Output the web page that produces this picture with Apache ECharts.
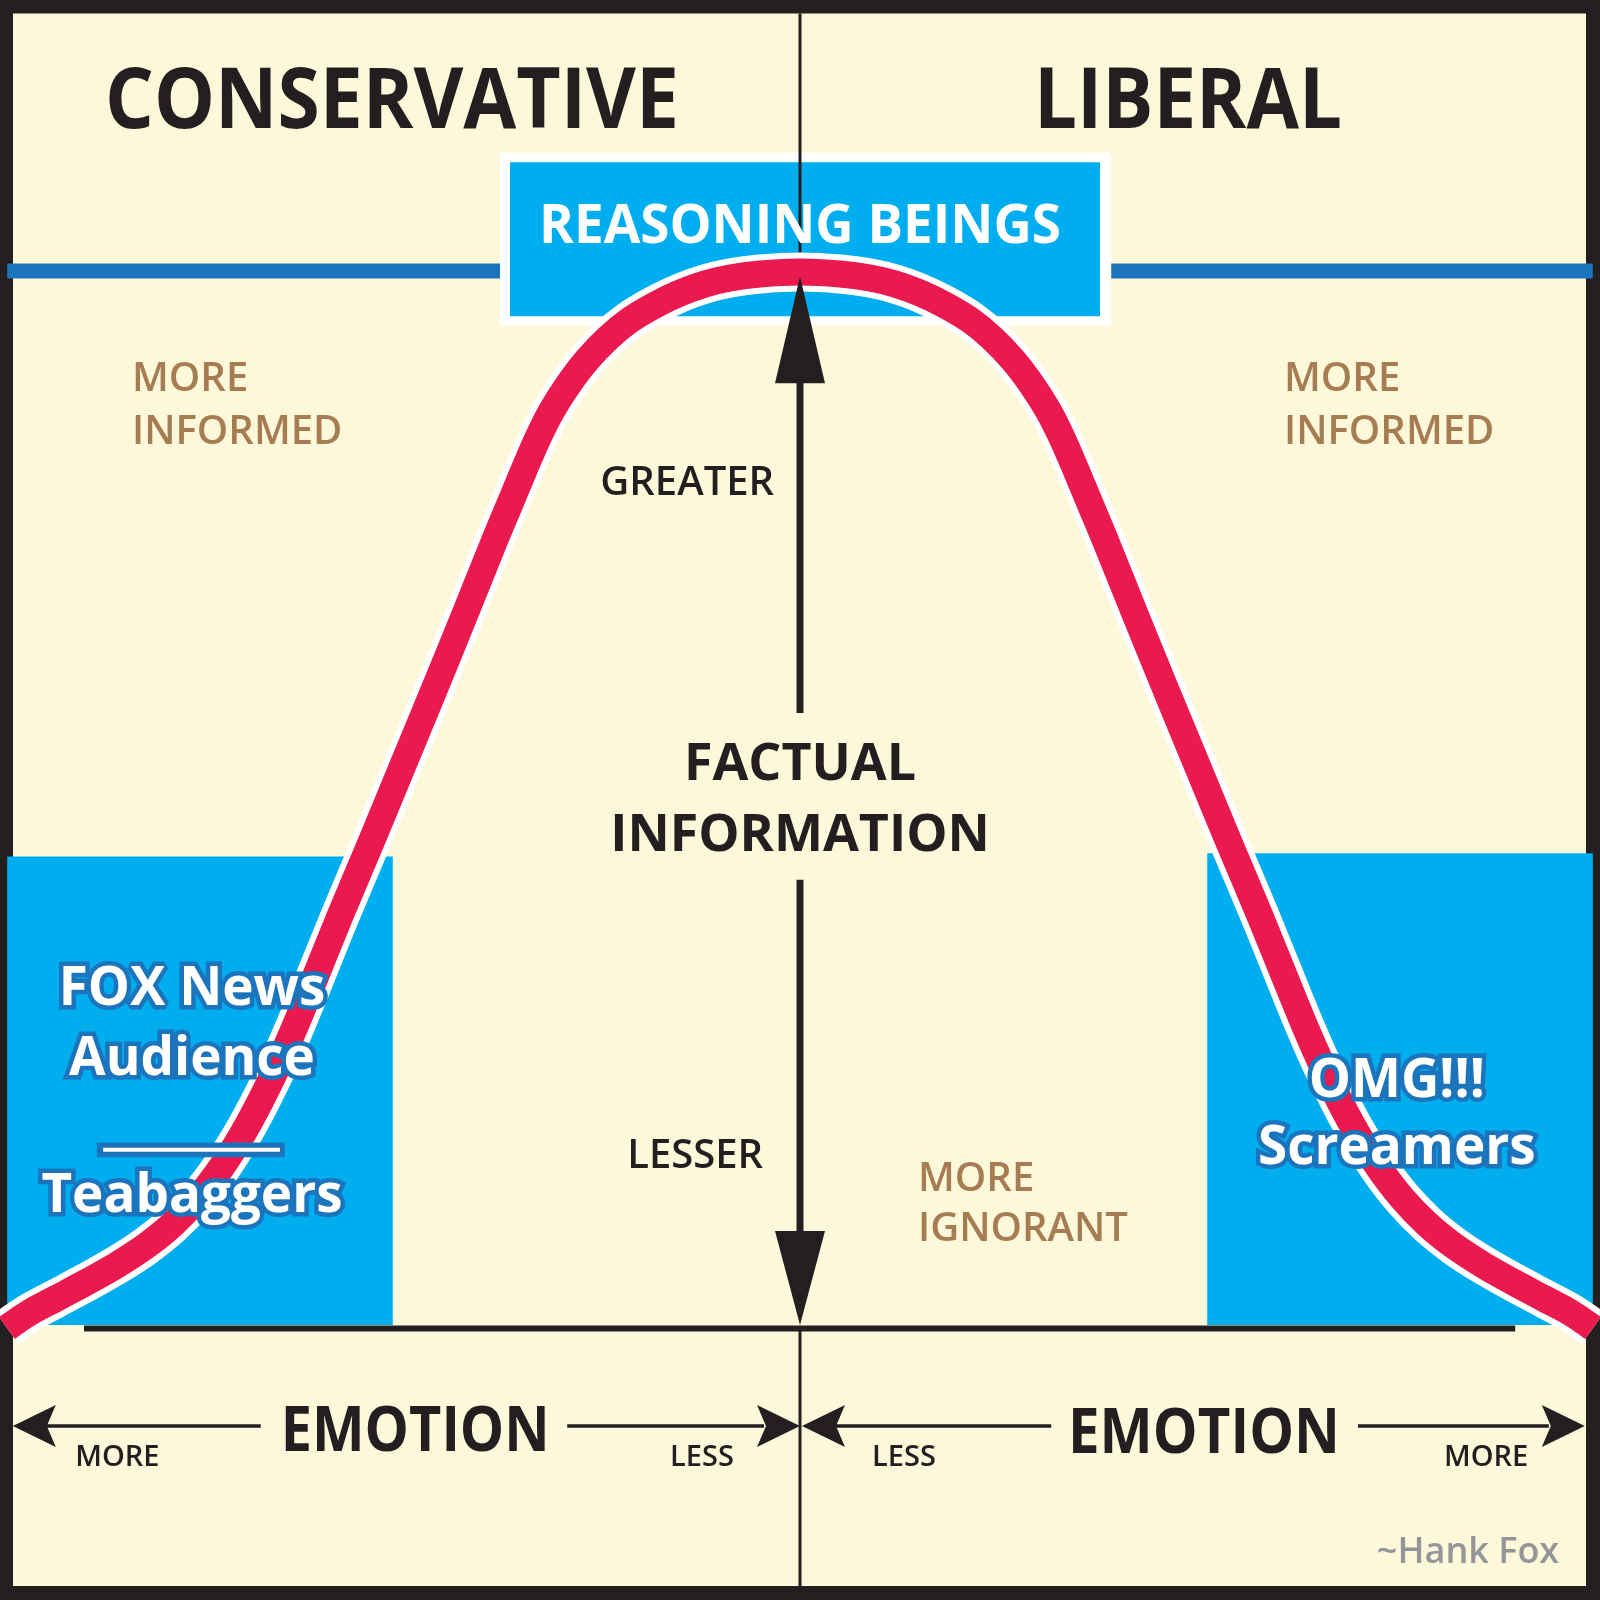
<!DOCTYPE html>
<html><head><meta charset="utf-8">
<script src="https://cdn.jsdelivr.net/npm/echarts@6/dist/echarts.min.js"></script>
<style>html,body{margin:0;padding:0;background:#231F20}#c{width:1600px;height:1600px}</style>
</head><body><div id="c"></div>
<script>
// ---------------- data ----------------
// Bell curve: x = emotion (-100 .. 0 .. +100), y = factual information (0 = baseline, 100 = peak)
const curveEmotion = [-99.125,-96.375,-92.875,-89.125,-85.375,-81.75,-78.375,-75.25,-72.375,-69.75,-67.375,-65.25,-63.31,-61.25,-57.5,-53.5,-49.625,-45.75,-41.875,-38,-36.06,-34.5,-32.875,-31.125,-29,-26.625,-24,-21.25,-18.125,-15,-11.875,-8.75,-5,
                      0,
                      5,8.75,11.875,15,18.125,21.25,24,26.625,29,31.125,32.875,34.5,36.06,38,41.875,45.75,49.625,53.5,57.5,61.25,63.31,65.25,67.375,69.75,72.375,75.25,78.375,81.75,85.375,89.125,92.875,96.375,99.125];
const curveInfo    = [-0.09,1.33,2.75,4.27,5.88,7.68,9.76,12.23,15.07,18.2,21.52,24.83,28.15,31.94,38.96,46.16,53.27,60.38,67.58,74.88,78.39,81.23,84.08,86.73,89.29,91.66,93.74,95.45,96.87,98.01,98.86,99.43,99.81,
                      100,
                      99.81,99.43,98.86,98.01,96.87,95.45,93.74,91.66,89.29,86.73,84.08,81.23,78.39,74.88,67.58,60.38,53.27,46.16,38.96,31.94,28.15,24.83,21.52,18.2,15.07,12.23,9.76,7.68,5.88,4.27,2.75,1.33,-0.09];
const sideHeadings   = ['CONSERVATIVE', 'LIBERAL'];
const topGroup       = 'REASONING BEINGS';
const leftGroup      = ['FOX News', 'Audience', 'Teabaggers'];
const rightGroup     = ['OMG!!!', 'Screamers'];
const infoAxisTitle  = ['FACTUAL', 'INFORMATION'];
const infoAxisEnds   = ['GREATER', 'LESSER'];
const informedLabel  = ['MORE', 'INFORMED'];
const ignorantLabel  = ['MORE', 'IGNORANT'];
const emotionTitle   = 'EMOTION';
const emotionEnds    = ['MORE', 'LESS', 'LESS', 'MORE'];
const credit         = '~Hank Fox';

// ---------------- styles ----------------
const C = {cream:'#FEF8DA', ink:'#231F20', red:'#EA1A4E', cyan:'#00AEEF', navy:'#1C75BC',
           brown:'#A67C52', grey:'#939598', white:'#FFFFFF'};
const FONT = '"Open Sans","Noto Sans",sans-serif';

// ---------------- layout (in axis units) ----------------
const back = [
  {k:'rect', x0:-98.375, y0:124.5, x1:98.25, y1:-24.55, fill:C.cream},
  {k:'seg', x0:-99.1, y0:100.1, x1:99.1, y1:100.1, w:15, color:C.navy},
  {k:'rect', x0:-37.5, y0:111.3, x1:38.9, y1:94.9, fill:C.white},
  {k:'rect', x0:-36.25, y0:110.4, x1:37.5, y1:95.8, fill:C.cyan},
  {k:'seg', x0:0, y0:124.5, x1:0, y1:96, w:3, color:C.ink},
  {k:'rect', x0:-99.1, y0:44.6, x1:-50.9, y1:0.2, fill:C.cyan},
  {k:'rect', x0:50.9, y0:44.9, x1:99.1, y1:0.2, fill:C.cyan},
  {k:'seg', x0:-89.5, y0:-0.14, x1:89.4, y1:-0.14, w:6, color:C.ink},
  {k:'seg', x0:0, y0:0, x1:0, y1:-24.6, w:3, color:C.ink}
];

function T(text, x, y, size, weight, color, align, outline, fitWidth) {
  return {k:'text', text, x, y, size, weight, color, align: align || 'center', outline, fitWidth};
}
const front = [
  // vertical "factual information" arrows
  {k:'seg', x0:0, y0:90, x1:0, y1:58.2, w:7, color:C.ink},
  {k:'head', x:0, y:99.6, dir:[0,-1], len:107, half:25, notch:0, color:C.ink},
  {k:'seg', x0:0, y0:42.4, x1:0, y1:8.6, w:7, color:C.ink},
  {k:'head', x:0, y:0.2, dir:[0,1], len:94, half:25, notch:0, color:C.ink},
  // emotion arrows
  {k:'seg', x0:-94.5, y0:-9.38, x1:-67.4, y1:-9.38, w:3.5, color:C.ink},
  {k:'head', x:-98.4, y:-9.38, dir:[-1,0], len:43, half:21, notch:9, color:C.ink},
  {k:'seg', x0:-29.1, y0:-9.38, x1:-4.5, y1:-9.38, w:3.5, color:C.ink},
  {k:'head', x:0, y:-9.38, dir:[1,0], len:43, half:21, notch:9, color:C.ink},
  {k:'seg', x0:4.5, y0:-9.38, x1:31.4, y1:-9.38, w:3.5, color:C.ink},
  {k:'head', x:0.25, y:-9.38, dir:[-1,0], len:43, half:21, notch:9, color:C.ink},
  {k:'seg', x0:69.75, y0:-9.38, x1:93.6, y1:-9.38, w:3.5, color:C.ink},
  {k:'head', x:98.1, y:-9.38, dir:[1,0], len:43, half:21, notch:9, color:C.ink},
  // separator under FOX News Audience
  {k:'rect', x0:-87.9, y0:17.5, x1:-64.4, y1:16.1, fill:C.navy},
  {k:'rect', x0:-87.1, y0:17.0, x1:-65.0, y1:16.6, fill:C.white},
  // texts
  T(sideHeadings[0], -51, 116.6, 84, 700, C.ink, 'center', null, 574),
  T(sideHeadings[1], 48.5, 116.6, 84, 700, C.ink, 'center', null, 308),
  T(topGroup, 0, 104.6, 53, 700, C.white),
  T(informedLabel[0], -83.5, 90.1, 40, 600, C.brown, 'left'),
  T(informedLabel[1], -83.5, 85.1, 40, 600, C.brown, 'left'),
  T(informedLabel[0], 60.5, 90.1, 40, 600, C.brown, 'left'),
  T(informedLabel[1], 60.5, 85.1, 40, 600, C.brown, 'left'),
  T(infoAxisEnds[0], -14.1, 80.2, 40, 600, C.ink),
  T(infoAxisTitle[0], 0, 53.6, 52, 700, C.ink),
  T(infoAxisTitle[1], 0, 46.9, 52, 700, C.ink),
  T(infoAxisEnds[1], -13.1, 16.5, 40, 600, C.ink),
  T(ignorantLabel[0], 14.75, 14.3, 40, 600, C.brown, 'left'),
  T(ignorantLabel[1], 14.75, 9.5, 40, 600, C.brown, 'left'),
  T(leftGroup[0], -76, 32.4, 53, 700, C.white, 'center', C.navy),
  T(leftGroup[1], -76, 25.7, 53, 700, C.white, 'center', C.navy),
  T(leftGroup[2], -76, 12.7, 53, 700, C.white, 'center', C.navy),
  T(rightGroup[0], 74.6, 23.6, 53, 700, C.white, 'center', C.navy),
  T(rightGroup[1], 74.6, 17.25, 53, 700, C.white, 'center', C.navy),
  T(emotionTitle, -48.1, -9.6, 62, 700, C.ink, 'center', null, 269),
  T(emotionTitle, 50.5, -9.8, 62, 700, C.ink, 'center', null, 272),
  T(emotionEnds[0], -90.6, -12.2, 29, 600, C.ink, 'left'),
  T(emotionEnds[1], -16.25, -12.2, 29, 600, C.ink, 'left'),
  T(emotionEnds[2], 9, -12.2, 29, 600, C.ink, 'left'),
  T(emotionEnds[3], 80.5, -12.2, 29, 600, C.ink, 'left'),
  T(credit, 94.9, -21.1, 36, 600, C.grey, 'right')
];

const measureCtx = document.createElement('canvas').getContext('2d');
function textWidth(s) {
  measureCtx.font = s.weight + ' ' + s.size + 'px ' + FONT;
  return measureCtx.measureText(s.text).width;
}

function renderSpec(s, api) {
  const P = (x, y) => api.coord([x, y]);
  if (s.k === 'rect') {
    const a = P(s.x0, s.y0), b = P(s.x1, s.y1);
    return {type:'rect', shape:{x:Math.min(a[0],b[0]), y:Math.min(a[1],b[1]),
      width:Math.abs(b[0]-a[0]), height:Math.abs(b[1]-a[1])}, style:{fill:s.fill}};
  }
  if (s.k === 'seg') {
    const a = P(s.x0, s.y0), b = P(s.x1, s.y1);
    return {type:'line', shape:{x1:a[0], y1:a[1], x2:b[0], y2:b[1]},
      style:{stroke:s.color, lineWidth:s.w, lineCap:'butt'}};
  }
  if (s.k === 'head') {
    const t = P(s.x, s.y), dx = s.dir[0], dy = s.dir[1], nx = -dy, ny = dx;
    const bx = t[0] - dx * s.len, by = t[1] - dy * s.len;
    const mx = t[0] - dx * (s.len - s.notch), my = t[1] - dy * (s.len - s.notch);
    return {type:'polygon', shape:{points:[[t[0],t[1]],[bx+nx*s.half,by+ny*s.half],[mx,my],[bx-nx*s.half,by-ny*s.half]]},
      style:{fill:s.color}};
  }
  if (s.k === 'text') {
    const a = P(s.x, s.y);
    const st = {text:s.text, fill:s.color, fontFamily:FONT, fontSize:s.size, fontWeight:s.weight,
      align:s.align, verticalAlign:'middle'};
    if (s.outline) { st.stroke = s.outline; st.lineWidth = 9; st.lineJoin = 'round'; }
    const el = {type:'text', x:a[0], y:a[1] + s.size * 0.08, style:st};
    if (s.fitWidth) { el.scaleX = s.fitWidth / textWidth(s); }
    return el;
  }
}

function layer(specs, z) {
  return {type:'custom', coordinateSystem:'cartesian2d', clip:false, silent:true, z:z,
    data: specs.map(() => [0, 50]),
    renderItem: (params, api) => renderSpec(specs[params.dataIndex], api)};
}

const curveData = curveEmotion.map((x, i) => [x, curveInfo[i]]);

const chart = echarts.init(document.getElementById('c'), null, {renderer:'canvas', width:1600, height:1600});
chart.setOption({
  animation:false,
  backgroundColor:C.ink,
  grid:{left:0, right:0, top:272, bottom:273},
  xAxis:{type:'value', min:-100, max:100, show:false},
  yAxis:{type:'value', min:0, max:100, show:false},
  tooltip:{show:false},
  series:[
    layer(back, 1),
    {type:'line', data:curveData, smooth:0.3, showSymbol:false, clip:false, silent:true, z:2,
      lineStyle:{color:C.white, width:39, cap:'butt', join:'round'}},
    {type:'line', data:curveData, smooth:0.3, showSymbol:false, clip:false, silent:true, z:3,
      lineStyle:{color:C.red, width:27, cap:'butt', join:'round'}},
    layer(front, 4)
  ]
});
</script>
</body></html>
